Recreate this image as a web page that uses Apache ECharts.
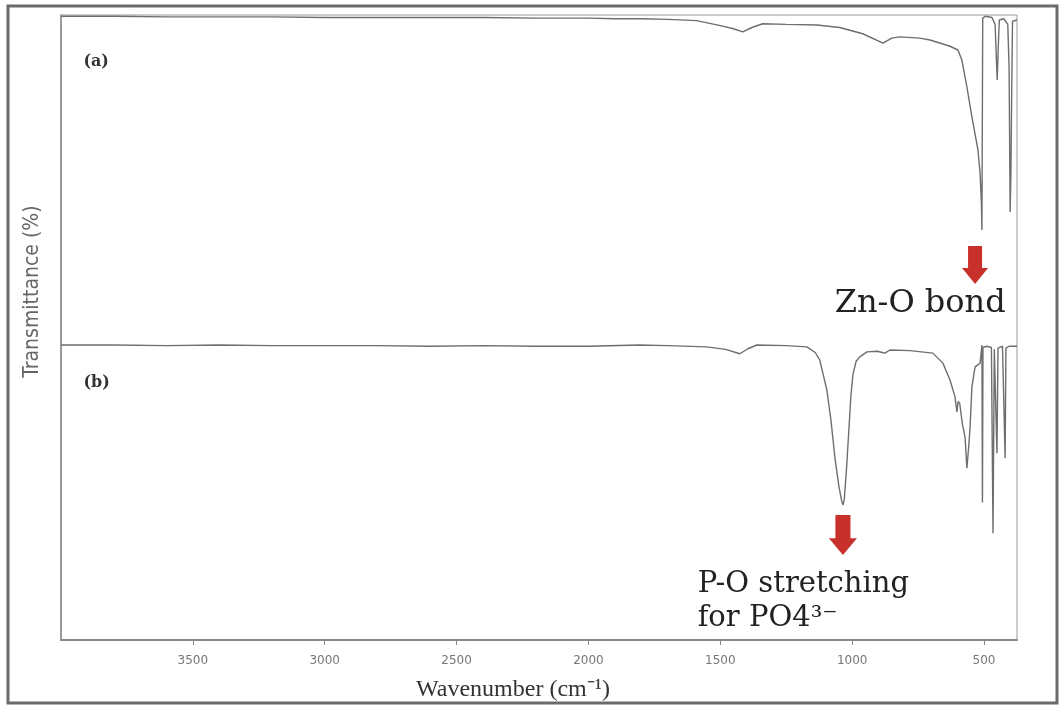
<!DOCTYPE html>
<html><head><meta charset="utf-8">
<script src="https://cdn.jsdelivr.net/npm/echarts@6/dist/echarts.min.js"></script>
<style>html,body{margin:0;padding:0;background:#fff}#c{width:1061px;height:707px}</style>
</head><body><div id="c"></div>
<script>
// Spectrum (a): wavenumber (cm-1) and transmittance (arbitrary, stacked)
const wnA = [4000,3800,3600,3400,3200,3000,2800,2600,2400,2200,2000,1900,1800,1700,1590,1500,1450,1415,1380,1339,1250,1134,1047,960,883,850,819,743,705,629,599,584,565,546,523,515,510,508,505,495,470,458,455,450,446,442,425,410,405,401,398,395,392,375];
const tA  = [99.8,99.8,99.7,99.7,99.7,99.6,99.6,99.6,99.6,99.5,99.5,99.4,99.4,99.3,99.1,98.3,97.8,97.3,98.0,98.6,98.5,98.4,98.0,97.0,95.5,96.3,96.5,96.3,96.0,95.0,94.4,92.8,88.5,83.7,78.4,74.7,70.0,65.6,99.5,99.8,99.6,98.5,95.0,89.6,95.0,99.2,99.4,98.5,91.7,68.5,74.7,88.0,99.0,99.2];
// Spectrum (b)
const wnB = [4000,3800,3600,3400,3200,3000,2800,2600,2400,2200,2000,1806,1700,1552,1480,1426,1395,1362,1250,1172,1140,1123,1110,1096,1080,1065,1050,1040,1035,1030,1022,1012,1005,997,985,971,944,906,885,876,857,780,694,656,629,610,603,598,592,582,572,565,558,553,546,534,515,508,506,504,490,472,466,461,455,451,447,430,423,420,417,405,375];
const tB  = [47.2,47.2,47.1,47.2,47.1,47.1,47.1,47.0,47.1,47.0,47.0,47.2,47.1,46.9,46.5,45.8,46.6,47.2,47.1,46.9,46.0,44.8,42.5,40.0,35.0,29.0,24.5,22.3,21.6,22.5,27.0,34.0,39.0,42.5,44.6,45.3,46.1,46.2,46.0,45.9,46.4,46.3,45.9,44.3,41.6,38.9,36.5,38.2,37.8,34.5,32.5,27.5,31.0,34.0,40.5,43.7,44.3,47.2,22.0,46.8,47.0,46.8,17.1,46.5,46.8,29.9,46.7,47.0,46.9,29.1,46.7,47.0,47.0];
const xTicks = [3500,3000,2500,2000,1500,1000,500];
const xLabelText = 'Wavenumber (cm\u207B\u00B9)';
const yLabelText = 'Transmittance (%)';
const panelLabels = ['(a)','(b)'];
const annZn = 'Zn-O bond';
const annPO = 'P-O stretching\nfor PO4\u00B3\u207B';

const pair = (xs, ys) => xs.map((x, i) => [x, ys[i]]);
const arrowPath = 'path://M6,0 L20,0 L20,22 L26,22 L13,38 L0,22 L6,22 Z';
const serif = '"DejaVu Serif", serif';
const textMark = (coord, text, size, extra) => ({
  coord: coord, symbol: 'circle', symbolSize: 0,
  label: Object.assign({ show: true, formatter: text, position: [0, 0], align: 'left', verticalAlign: 'middle',
           fontFamily: serif, fontSize: size, color: '#222' }, extra || {})
});

const chart = echarts.init(document.getElementById('c'));
chart.setOption({
  animation: false,
  backgroundColor: '#fff',
  grid: { left: 61, right: 44, top: 15, bottom: 67, show: true, borderColor: '#9a9a9a', borderWidth: 1 },
  xAxis: {
    type: 'value', inverse: true, min: 375, max: 4000, interval: 125,
    name: xLabelText, nameLocation: 'middle', nameGap: 38,
    nameTextStyle: { fontFamily: '"Liberation Serif", serif', fontSize: 24, color: '#333', padding: [0, 52, 0, 0] },
    axisLine: { lineStyle: { color: '#8a8a8a', width: 2 } },
    axisTick: { customValues: xTicks, length: 5, lineStyle: { color: '#888' } },
    axisLabel: { customValues: xTicks, color: '#777', fontSize: 12, margin: 15, fontFamily: '"DejaVu Sans", sans-serif',
                 formatter: v => String(v) },
    splitLine: { show: false }
  },
  yAxis: {
    type: 'value', min: 0, max: 100,
    name: yLabelText, nameLocation: 'middle', nameGap: 18,
    nameTextStyle: { fontFamily: '"Liberation Sans Narrow", "DejaVu Sans Condensed", sans-serif', fontSize: 21, color: '#666', padding: [0, 0, 0, 72] },
    axisLine: { show: true, lineStyle: { color: '#8a8a8a', width: 1.5 } },
    axisTick: { show: false }, axisLabel: { show: false }, splitLine: { show: false }
  },
  series: [
    { type: 'line', name: 'a', data: pair(wnA, tA), showSymbol: false, symbol: 'none',
      lineStyle: { color: '#6e6e6e', width: 1.4 },
      markPoint: { silent: true, data: [
        { coord: [534, 60], symbol: arrowPath, symbolSize: [26, 38], itemStyle: { color: '#c8302c' }, label: { show: false } },
        textMark([1066, 53.8], annZn, 32),
        textMark([3915, 92.5], panelLabels[0], 16, { fontWeight: 'bold', color: '#333' })
      ] } },
    { type: 'line', name: 'b', data: pair(wnB, tB), showSymbol: false, symbol: 'none',
      lineStyle: { color: '#6e6e6e', width: 1.4 },
      markPoint: { silent: true, data: [
        { coord: [1035, 16.8], symbol: arrowPath, symbolSize: [28, 40], itemStyle: { color: '#c8302c' }, label: { show: false } },
        textMark([1586, 6.1], annPO, 29, { lineHeight: 34 }),
        textMark([3915, 41.1], panelLabels[1], 16, { fontWeight: 'bold', color: '#333' })
      ] } }
  ],
  graphic: [
    { type: 'rect', silent: true, z: 100, shape: { x: 8, y: 6, width: 1049, height: 697 },
      style: { fill: 'none', stroke: '#6a6a6a', lineWidth: 3 } }
  ]
});
</script></body></html>
